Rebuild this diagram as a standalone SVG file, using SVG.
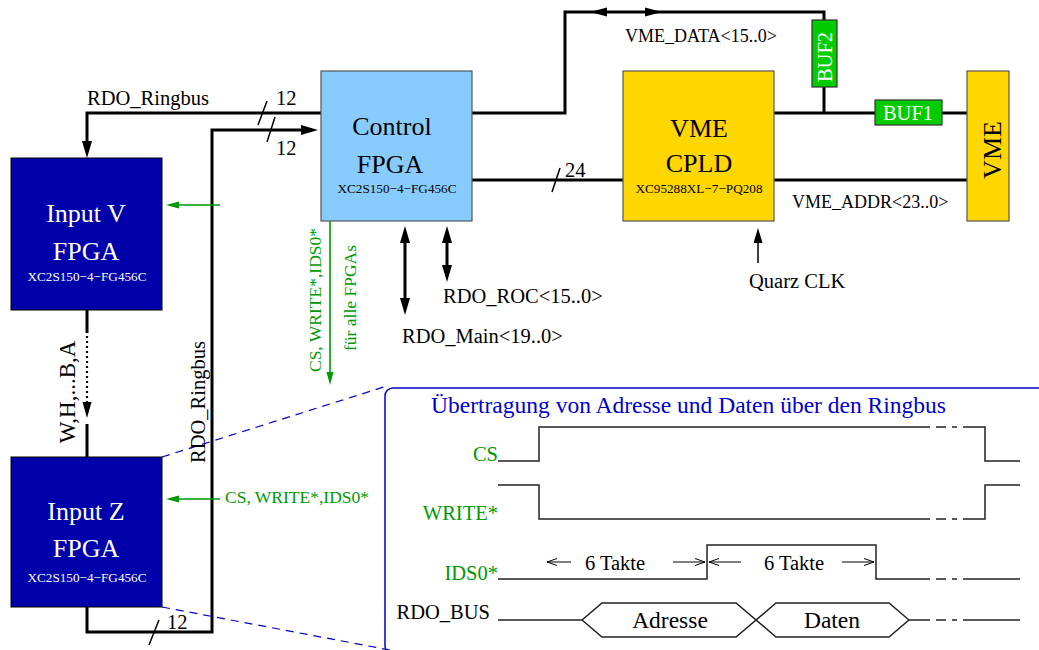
<svg xmlns="http://www.w3.org/2000/svg" width="1039" height="650" viewBox="0 0 1039 650">
<defs>
<style>
text{font-family:"Liberation Serif","Times New Roman",serif;}
.wire{fill:none;stroke:#000;stroke-width:3;}
.thin{fill:none;stroke:#000;stroke-width:1.5;}
.gw{fill:none;stroke:#009900;stroke-width:1.6;}
.sig{fill:none;stroke:#222;stroke-width:1.5;}
.bdash{fill:none;stroke:#0000cc;stroke-width:1.2;stroke-dasharray:8,6;}
.head{fill:#000;}
.lbl{font-size:20.5px;fill:#000;}
.lbl18{font-size:18px;fill:#000;}
.glbl{font-size:17.5px;fill:#009900;}
.tlbl{font-size:20.5px;fill:#009900;}
.big{font-size:26px;text-anchor:middle;}
.part{font-size:13.2px;text-anchor:middle;}
.white{fill:#fff;}
.blk{fill:#000;}
.inbox{fill:#0000aa;stroke:#000;stroke-width:1;}
.ctrl{fill:#88ccff;stroke:#555;stroke-width:1.2;}
.gold{fill:#ffd700;stroke:#555;stroke-width:1.2;}
.buf{fill:#00cc00;stroke:#333;stroke-width:1.2;}
.buft{font-size:20.5px;fill:#fff;text-anchor:middle;}
</style>
<marker id="ab" markerUnits="userSpaceOnUse" markerWidth="18" markerHeight="10" refX="11" refY="5" orient="auto-start-reverse" viewBox="0 0 18 10"><path d="M0,0 L17,5 L0,10 z" fill="#000"/></marker>
<marker id="as" markerUnits="userSpaceOnUse" markerWidth="16" markerHeight="9" refX="10" refY="4.5" orient="auto-start-reverse" viewBox="0 0 16 9"><path d="M0,0 L15,4.5 L0,9 z" fill="#000"/></marker>
<marker id="ag" markerUnits="userSpaceOnUse" markerWidth="14" markerHeight="8" refX="8" refY="4" orient="auto" viewBox="0 0 14 8"><path d="M0,0.5 L13,4 L0,7.5 z" fill="#009900"/></marker>
<marker id="ao" markerUnits="userSpaceOnUse" markerWidth="11" markerHeight="8" refX="10" refY="4" orient="auto" viewBox="0 0 11 8"><path d="M0,0.5 L10,4 L0,7.5" fill="none" stroke="#000" stroke-width="1"/></marker>
</defs>
<rect width="1039" height="650" fill="#fff"/>

<g id="connectors">
  <path class="wire" d="M321,113 H87 V152" marker-end="url(#ab)"/>
  <path class="wire" d="M87,607 V632 H212 V130 H312" marker-end="url(#ab)"/>
  <path class="wire" d="M472,113 H565 V12 H824 V20"/>
  <polygon class="head" points="590,12 607,7.5 607,16.5"/>
  <polygon class="head" points="662,12 645,7.5 645,16.5"/>
  <path class="wire" d="M824,87 V113"/>
  <path class="wire" d="M774,113 H875"/>
  <path class="wire" d="M942,113 H967"/>
  <path class="wire" d="M472,180 H623"/>
  <path class="wire" d="M774,180 H967"/>
  <path class="thin" d="M258,125 L267,101 M267,142 L275,117 M552,192 L560,168 M149,645 L159,620"/>
  <path class="wire" d="M405,232 V309" marker-start="url(#ab)" marker-end="url(#ab)"/>
  <path class="wire" d="M447,232 V276" marker-start="url(#ab)" marker-end="url(#ab)"/>
  <path class="thin" d="M758,263 V233" marker-end="url(#as)"/>
  <path class="gw" d="M220,205 H171" marker-end="url(#ag)"/>
  <path class="gw" d="M220,499 H171" marker-end="url(#ag)"/>
  <path class="gw" d="M330,221 V380" marker-end="url(#ag)"/>
  <path class="wire" d="M87,310 V333 M87,424 V457"/>
  <path fill="none" stroke="#000" stroke-width="2.2" stroke-dasharray="2,3" d="M87,336 V403"/>
  <polygon class="head" points="87,418 82.5,402 91.5,402"/>
  <path class="bdash" d="M162,457 L387,386"/>
  <path class="bdash" d="M162,607 L395,651"/>
</g>

<g id="connector-labels">
  <text class="lbl" x="87" y="105">RDO_Ringbus</text>
  <text class="lbl" x="276" y="105">12</text>
  <text class="lbl" x="276" y="155">12</text>
  <text class="lbl" x="565" y="177">24</text>
  <text class="lbl" x="167" y="629">12</text>
  <text class="lbl18" x="625" y="42">VME_DATA&lt;15..0&gt;</text>
  <text class="lbl18" x="792" y="208">VME_ADDR&lt;23..0&gt;</text>
  <text class="lbl" x="443" y="303">RDO_ROC&lt;15..0&gt;</text>
  <text class="lbl" x="402" y="343">RDO_Main&lt;19..0&gt;</text>
  <text class="lbl" x="749" y="288">Quarz CLK</text>
  <text class="glbl" x="225" y="503">CS, WRITE*,IDS0*</text>
  <text class="glbl" text-anchor="middle" transform="translate(321,300) rotate(-90)">CS, WRITE*,IDS0*</text>
  <text class="glbl" text-anchor="middle" transform="translate(356,298) rotate(-90)">für alle FPGAs</text>
  <text class="lbl" text-anchor="middle" transform="translate(205,402) rotate(-90)">RDO_Ringbus</text>
  <text class="lbl" font-size="23" text-anchor="middle" transform="translate(75,392) rotate(-90)" style="font-size:23px">W,H,...B,A</text>
</g>

<g id="input-v">
  <rect class="inbox" x="11" y="158" width="151" height="152"/>
  <text class="big white" x="86" y="222">Input V</text>
  <text class="big white" x="86" y="260">FPGA</text>
  <text class="part white" x="87" y="281">XC2S150−4−FG456C</text>
</g>

<g id="input-z">
  <rect class="inbox" x="11" y="457" width="151" height="150"/>
  <text class="big white" x="86" y="520">Input Z</text>
  <text class="big white" x="86" y="557">FPGA</text>
  <text class="part white" x="87" y="582">XC2S150−4−FG456C</text>
</g>

<g id="control-fpga">
  <rect class="ctrl" x="321" y="71" width="151" height="150"/>
  <text class="big blk" x="392" y="135">Control</text>
  <text class="big blk" x="390" y="173">FPGA</text>
  <text class="part blk" x="397" y="193">XC2S150−4−FG456C</text>
</g>

<g id="vme-cpld">
  <rect class="gold" x="623" y="71" width="151" height="150"/>
  <text class="big blk" x="699" y="137">VME</text>
  <text class="big blk" x="699" y="172">CPLD</text>
  <text class="part blk" x="699" y="193">XC95288XL−7−PQ208</text>
</g>

<g id="vme">
  <rect class="gold" x="967" y="71" width="42" height="150"/>
  <text class="big blk" transform="translate(1001,150) rotate(-90)">VME</text>
</g>

<g id="buf2">
  <rect class="buf" x="812" y="20" width="25" height="67"/>
  <text class="buft" transform="translate(832,57) rotate(-90)">BUF2</text>
</g>

<g id="buf1">
  <rect class="buf" x="875" y="100" width="67" height="25"/>
  <text class="buft" x="908" y="120">BUF1</text>
</g>

<g id="timing">
  <rect x="385" y="388" width="700" height="266" rx="8" fill="none" stroke="#0000cc" stroke-width="1.5"/>
  <text x="431" y="413" style="font-size:23.5px;fill:#0000cc">Übertragung von Adresse und Daten über den Ringbus</text>
  <text class="tlbl" x="498" y="461" text-anchor="end">CS</text>
  <text class="tlbl" x="498" y="520" text-anchor="end">WRITE*</text>
  <text class="tlbl" x="498" y="580" text-anchor="end">IDS0*</text>
  <text class="lbl" x="490" y="619" text-anchor="end">RDO_BUS</text>
  <path class="sig" d="M498,461 H539 V427 H930 M936,427 H946 M952,427 H957 M963,427 H985 V461 H1020"/>
  <path class="sig" d="M498,485 H539 V519 H930 M936,519 H946 M952,519 H957 M963,519 H985 V485 H1020"/>
  <path class="sig" d="M498,579 H707 V545 H876 V579 H930 M936,579 H946 M952,579 H957 M963,579 H1020"/>
  <path class="sig" d="M498,620 H582 L602,603 H736 L776,637 H889 L909,620 H930 M936,620 H946 M952,620 H957 M963,620 H1020 M582,620 L602,637 H736 L776,603 H889 L909,620"/>
  <path class="thin" style="stroke-width:1" d="M571,562 H547" marker-end="url(#ao)"/>
  <path class="thin" style="stroke-width:1" d="M673,562 H705" marker-end="url(#ao)"/>
  <path class="thin" style="stroke-width:1" d="M741,562 H709" marker-end="url(#ao)"/>
  <path class="thin" style="stroke-width:1" d="M842,562 H874" marker-end="url(#ao)"/>
  <text class="lbl" x="615" y="570" text-anchor="middle">6 Takte</text>
  <text class="lbl" x="794" y="570" text-anchor="middle">6 Takte</text>
  <text x="670" y="628" text-anchor="middle" style="font-size:23.5px">Adresse</text>
  <text x="832" y="628" text-anchor="middle" style="font-size:23.5px">Daten</text>
</g>
</svg>
